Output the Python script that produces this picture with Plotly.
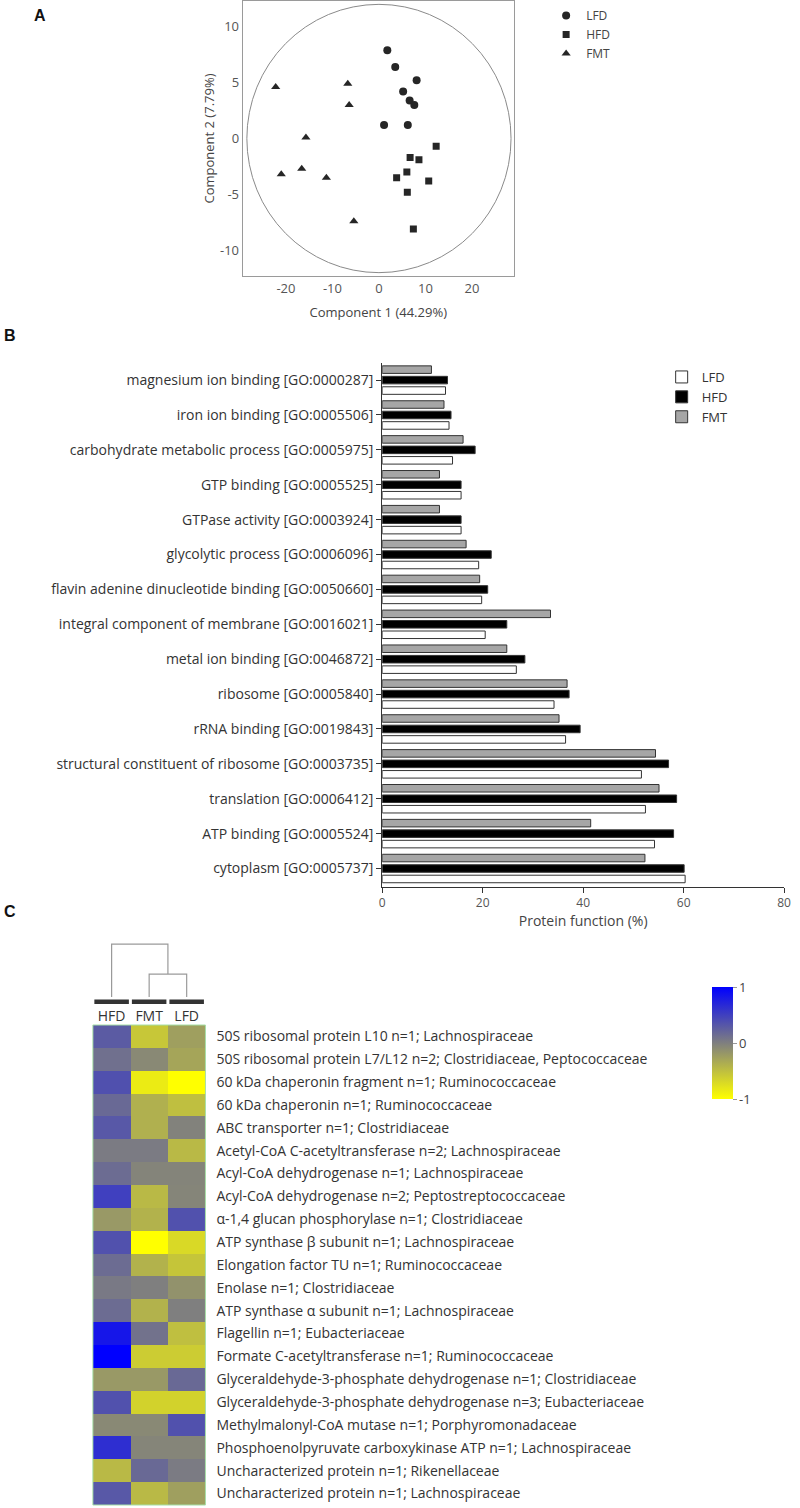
import plotly.graph_objects as go

W, H = 800, 1508
def fx(v):
    return v / W
def fy(v):
    return 1 - v / H

FONT = "Open Sans"

# ---------------- Panel A data (PCA scores) ----------------
lfd_c1 = [1.8, 3.5, 8.1, 5.2, 6.6, 7.6, 1.1, 6.2]
lfd_c2 = [7.9, 6.4, 5.2, 4.2, 3.4, 3.0, 1.2, 1.2]
hfd_c1 = [12.3, 6.7, 8.6, 6.0, 3.8, 10.7, 6.1, 7.4]
hfd_c2 = [-0.7, -1.7, -1.9, -3.0, -3.5, -3.8, -4.8, -8.1]
fmt_c1 = [-22.2, -6.7, -6.4, -15.7, -21.0, -16.6, -11.3, -5.4]
fmt_c2 = [4.6, 4.9, 3.0, 0.1, -3.2, -2.7, -3.5, -7.4]
circle_r1 = 28.4
circle_r2 = 12.0
a_xticks = [-20, -10, 0, 10, 20]
a_yticks = [-10, -5, 0, 5, 10]

# ---------------- Panel B data (GO terms, %) ----------------
go_terms = [
    "magnesium ion binding [GO:0000287]",
    "iron ion binding [GO:0005506]",
    "carbohydrate metabolic process [GO:0005975]",
    "GTP binding [GO:0005525]",
    "GTPase activity [GO:0003924]",
    "glycolytic process [GO:0006096]",
    "flavin adenine dinucleotide binding [GO:0050660]",
    "integral component of membrane [GO:0016021]",
    "metal ion binding [GO:0046872]",
    "ribosome [GO:0005840]",
    "rRNA binding [GO:0019843]",
    "structural constituent of ribosome [GO:0003735]",
    "translation [GO:0006412]",
    "ATP binding [GO:0005524]",
    "cytoplasm [GO:0005737]",
]
lfd_pct = [12.6, 13.3, 14.0, 15.7, 15.7, 19.2, 19.8, 20.5, 26.7, 34.2, 36.5, 51.6, 52.4, 54.2, 60.3]
hfd_pct = [13.0, 13.7, 18.5, 15.7, 15.7, 21.7, 21.0, 24.8, 28.4, 37.2, 39.4, 57.0, 58.6, 58.0, 60.1]
fmt_pct = [9.8, 12.3, 16.1, 11.4, 11.4, 16.7, 19.4, 33.5, 24.8, 36.8, 35.2, 54.4, 55.1, 41.5, 52.3]

# ---------------- Panel C data (heatmap) ----------------
heat_cols = ["HFD", "FMT", "LFD"]
heat_rows = [
    "50S ribosomal protein L10 n=1; Lachnospiraceae",
    "50S ribosomal protein L7/L12 n=2; Clostridiaceae, Peptococcaceae",
    "60 kDa chaperonin fragment n=1; Ruminococcaceae",
    "60 kDa chaperonin n=1; Ruminococcaceae",
    "ABC transporter n=1; Clostridiaceae",
    "Acetyl-CoA C-acetyltransferase n=2; Lachnospiraceae",
    "Acyl-CoA dehydrogenase n=1; Lachnospiraceae",
    "Acyl-CoA dehydrogenase n=2; Peptostreptococcaceae",
    "α-1,4 glucan phosphorylase n=1; Clostridiaceae",
    "ATP synthase β subunit n=1; Lachnospiraceae",
    "Elongation factor TU n=1; Ruminococcaceae",
    "Enolase n=1; Clostridiaceae",
    "ATP synthase α subunit n=1; Lachnospiraceae",
    "Flagellin n=1; Eubacteriaceae",
    "Formate C-acetyltransferase n=1; Ruminococcaceae",
    "Glyceraldehyde-3-phosphate dehydrogenase n=1; Clostridiaceae",
    "Glyceraldehyde-3-phosphate dehydrogenase n=3; Eubacteriaceae",
    "Methylmalonyl-CoA mutase n=1; Porphyromonadaceae",
    "Phosphoenolpyruvate carboxykinase ATP n=1; Lachnospiraceae",
    "Uncharacterized protein n=1; Rikenellaceae",
    "Uncharacterized protein n=1; Lachnospiraceae",
]
heat_hfd = [0.28, 0.12, 0.37, 0.17, 0.31, 0.03, 0.15, 0.5, -0.2, 0.36, 0.15, 0.05, 0.15, 0.83, 1.0, -0.2, 0.36, -0.08, 0.64, -0.45, 0.31]
heat_fmt = [-0.56, -0.08, -0.84, -0.38, -0.38, 0.03, -0.04, -0.45, -0.4, -1.0, -0.4, 0.0, -0.4, 0.1, -0.6, -0.2, -0.65, -0.08, -0.05, 0.17, -0.45]
heat_lfd = [-0.25, -0.3, -1.0, -0.5, -0.02, -0.45, -0.04, -0.05, 0.36, -0.7, -0.55, -0.15, 0.0, -0.5, -0.6, 0.17, -0.65, 0.36, -0.05, 0.03, -0.25]
# dendrogram merge heights: (FMT, LFD) first, then HFD joins
dendro_h_inner = 1.0
dendro_h_outer = 2.3

fig = go.Figure()

# ---------------- Panel A ----------------
mk_col = "#262626"
fig.add_trace(go.Scatter(x=lfd_c1, y=lfd_c2, mode="markers", name="LFD",
                         marker=dict(symbol="circle", size=8, color=mk_col),
                         xaxis="x", yaxis="y", legend="legend"))
fig.add_trace(go.Scatter(x=hfd_c1, y=hfd_c2, mode="markers", name="HFD",
                         marker=dict(symbol="square", size=7, color=mk_col),
                         xaxis="x", yaxis="y", legend="legend"))
fig.add_trace(go.Scatter(x=fmt_c1, y=fmt_c2, mode="markers", name="FMT",
                         marker=dict(symbol="triangle-up", size=8, color=mk_col),
                         xaxis="x", yaxis="y", legend="legend"))
fig.add_shape(type="circle", xref="x", yref="y", x0=-circle_r1, x1=circle_r1,
              y0=-circle_r2, y1=circle_r2, line=dict(color="#8a8a8a", width=1), layer="below")

# ---------------- Panel B ----------------
bar_line = dict(color="#333333", width=1)
fig.add_trace(go.Bar(y=go_terms, x=fmt_pct, orientation="h", name="FMT",
                     marker=dict(color="#a6a6a6", line=bar_line),
                     xaxis="x2", yaxis="y2", legend="legend2"))
fig.add_trace(go.Bar(y=go_terms, x=hfd_pct, orientation="h", name="HFD",
                     marker=dict(color="#000000", line=bar_line),
                     xaxis="x2", yaxis="y2", legend="legend2"))
fig.add_trace(go.Bar(y=go_terms, x=lfd_pct, orientation="h", name="LFD",
                     marker=dict(color="#ffffff", line=bar_line),
                     xaxis="x2", yaxis="y2", legend="legend2"))

# ---------------- Panel C ----------------
heat_z = [list(r) for r in zip(heat_hfd, heat_fmt, heat_lfd)]
fig.add_trace(go.Heatmap(
    z=heat_z, x=heat_cols, y=heat_rows, zmin=-1, zmax=1,
    colorscale=[[0, "#ffff00"], [0.5, "#7f7f7f"], [1, "#0000ff"]],
    xaxis="x3", yaxis="y3", showscale=True, hoverinfo="z",
    colorbar=dict(x=fx(718), xanchor="left", xpad=0, ypad=0,
                  y=fy(1043), yanchor="middle",
                  len=112, lenmode="pixels", thickness=21, outlinewidth=0,
                  tickvals=[-1, 0, 1], ticktext=["-1", "0", "1"], ticks="outside",
                  ticklen=4, tickcolor="#999999",
                  tickfont=dict(family=FONT, size=13, color="#444444")),
))
# dendrogram
idx = {c: i for i, c in enumerate(heat_cols)}
inner_c = (idx["FMT"] + idx["LFD"]) / 2
dx = [idx["FMT"], idx["FMT"], idx["LFD"], idx["LFD"], None,
      idx["HFD"], idx["HFD"], inner_c, inner_c]
dy = [0, dendro_h_inner, dendro_h_inner, 0, None,
      0, dendro_h_outer, dendro_h_outer, dendro_h_inner]
fig.add_trace(go.Scatter(x=dx, y=dy, mode="lines", line=dict(color="#9a9a9a", width=1.2),
                         xaxis="x4", yaxis="y4", showlegend=False, hoverinfo="skip"))
for i, c in enumerate(heat_cols):
    fig.add_shape(type="rect", xref="x3", yref="paper", x0=i - 0.46, x1=i + 0.46,
                  y0=fy(1004), y1=fy(999.5), fillcolor="#333333", line=dict(width=0))
fig.add_shape(type="rect", xref="x3 domain", yref="y3 domain", x0=0, x1=1, y0=0, y1=1,
              line=dict(color="#a6dfa6", width=1))

# ---------------- Layout ----------------
tick_gray = "#555555"
fig.update_layout(
    width=W, height=H, margin=dict(l=0, r=0, t=0, b=0),
    paper_bgcolor="white", plot_bgcolor="white",
    font=dict(family=FONT, color="#333333"),
    barmode="group", bargap=0.1, bargroupgap=0.28,
    showlegend=True,
    xaxis=dict(domain=[fx(242.7), fx(517.3)], range=[-29.3, 29.0], tickvals=a_xticks,
               ticktext=[str(v) for v in a_xticks],
               showline=True, mirror=True, linecolor="#9a9a9a", linewidth=1, showgrid=False,
               zeroline=False, ticks="", tickfont=dict(size=13, color=tick_gray),
               title=dict(text="Component 1 (44.29%)", font=dict(size=13, color="#444444"), standoff=12)),
    yaxis=dict(domain=[fy(276), fy(1)], range=[-12.3, 12.3], tickvals=a_yticks,
               ticktext=[str(v) for v in a_yticks],
               showline=True, mirror=True, linecolor="#9a9a9a", linewidth=1, showgrid=False,
               zeroline=False, ticks="", tickfont=dict(size=13, color=tick_gray),
               title=dict(text="Component 2 (7.79%)", font=dict(size=13, color="#444444"), standoff=2)),
    xaxis2=dict(domain=[fx(384), fx(791)], range=[0, 80], tickvals=[0, 20, 40, 60, 80],
                showline=True, linecolor="#333333", linewidth=1, showgrid=False, zeroline=False,
                ticks="outside", ticklen=5, tickcolor="#333333",
                tickfont=dict(size=12, color=tick_gray), anchor="y2",
                title=dict(text="Protein function (%)", font=dict(size=14, color="#444444"), standoff=4)),
    yaxis2=dict(domain=[fy(887), fy(363)], type="category", categoryarray=go_terms,
                range=[14.53, -0.49], showline=True, linecolor="#333333", linewidth=1,
                showgrid=False, ticks="outside", ticklen=5, tickcolor="#333333",
                tickfont=dict(size=14, color="#333333"), anchor="x2"),
    xaxis3=dict(domain=[fx(91), fx(205)], side="top", showgrid=False, zeroline=False,
                ticks="", tickfont=dict(size=14, color="#333333"), anchor="y3",
                range=[-0.5, 2.5]),
    yaxis3=dict(domain=[fy(1505), fy(1025)], autorange="reversed", side="right",
                showgrid=False, zeroline=False, ticks="", ticklabelstandoff=10,
                tickfont=dict(size=14, color="#333333"), anchor="x3"),
    xaxis4=dict(domain=[fx(91), fx(205)], range=[-0.5, 2.5], visible=False, anchor="y4"),
    yaxis4=dict(domain=[fy(998.2), fy(941.8)], range=[-0.05, 2.4], visible=False, anchor="x4"),
    legend=dict(x=fx(550), y=fy(1), xanchor="left", yanchor="top",
                font=dict(size=12, color="#444444"), bgcolor="rgba(0,0,0,0)"),
    legend2=dict(x=fx(667), y=fy(362), xanchor="left", yanchor="top", traceorder="reversed",
                 font=dict(size=13, color="#333333"), bgcolor="rgba(0,0,0,0)"),
)

for txt, x, y in [("A", 37, 16), ("B", 7, 335), ("C", 7, 912)]:
    fig.add_annotation(text="<b>%s</b>" % txt, x=fx(x), y=fy(y), xref="paper", yref="paper",
                       showarrow=False, xanchor="center", yanchor="middle",
                       font=dict(family="Liberation Sans", size=16, color="#111111"))

fig.write_html("out.html", config={"displayModeBar": False},
               post_script="document.body.style.margin='0';")
